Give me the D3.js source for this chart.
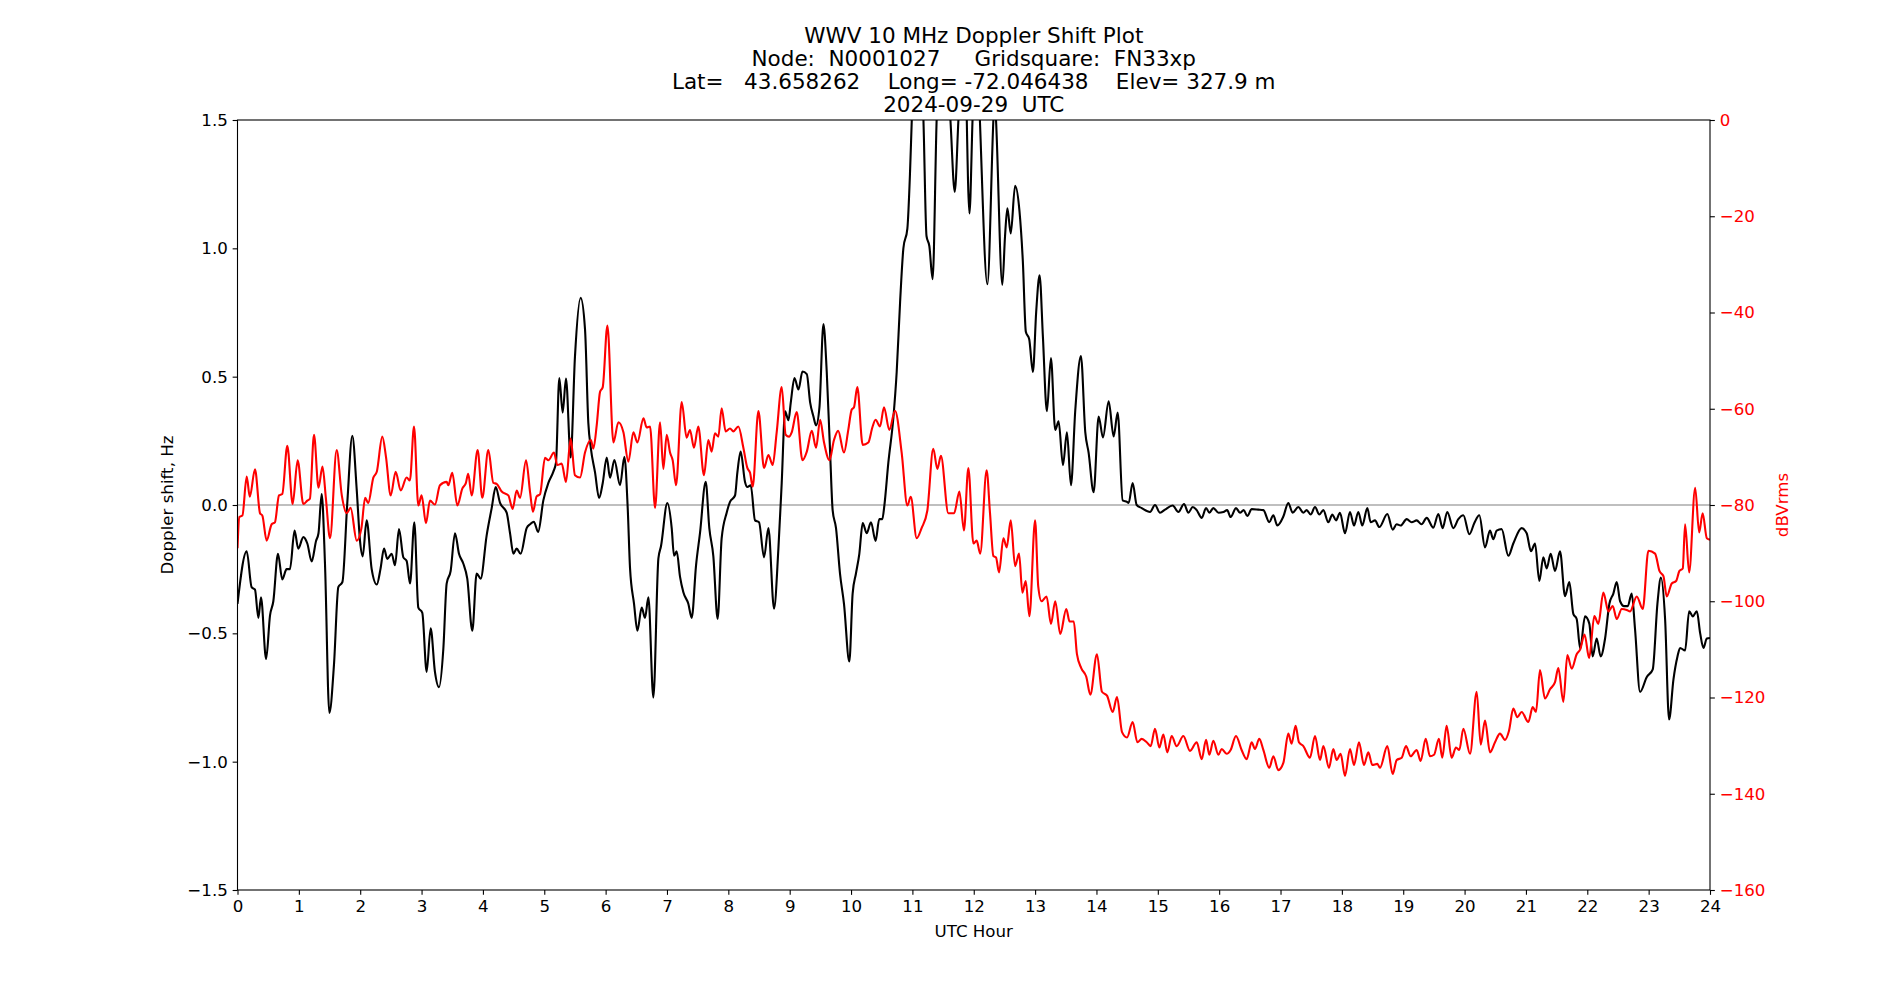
<!DOCTYPE html>
<html>
<head>
<meta charset="utf-8">
<script src="https://cdn.jsdelivr.net/npm/d3@7"></script>
<style>
  body { margin: 0; background: #fff; }
  svg text { font-family: "DejaVu Sans", sans-serif; }
</style>
</head>
<body>
<svg id="chart" width="1900" height="1000"></svg>
<script>
// title and tick labels
const titleLines = [
    "WWV 10 MHz Doppler Shift Plot",
    "Node:  N0001027     Gridsquare:  FN33xp",
    "Lat=   43.658262    Long= -72.046438    Elev= 327.9 m",
    "2024-09-29  UTC"
];
const hourTicks = d3.range(0, 25);
const dopplerTicks = [-1.5, -1.0, -0.5, 0.0, 0.5, 1.0, 1.5];
const dbTicks = [0, -20, -40, -60, -80, -100, -120, -140, -160];

// Doppler shift (Hz): [UTC hour, Hz]
const dopplerPts = [
    [0.0,-0.385],[0.15,-0.18],[0.23,-0.32],[0.285,-0.33],[0.34,-0.44],[0.383,-0.36],[0.466,-0.60],[0.53,-0.43],
    [0.584,-0.375],[0.66,-0.19],[0.73,-0.29],[0.80,-0.25],[0.855,-0.25],[0.93,-0.10],[0.99,-0.17],[1.073,-0.125],
    [1.138,-0.15],[1.209,-0.22],[1.28,-0.14],[1.32,-0.11],[1.372,0.043],[1.426,-0.23],[1.497,-0.81],[1.573,-0.62],
    [1.643,-0.32],[1.71,-0.30],[1.79,0.01],[1.871,0.27],[1.943,0.06],[1.997,-0.14],[2.04,-0.20],[2.105,-0.06],
    [2.187,-0.25],[2.27,-0.31],[2.33,-0.25],[2.388,-0.17],[2.442,-0.21],[2.513,-0.19],[2.567,-0.235],[2.632,-0.094],
    [2.703,-0.204],[2.757,-0.218],[2.812,-0.306],[2.882,-0.067],[2.947,-0.40],[3.012,-0.42],[3.083,-0.65],[3.148,-0.48],
    [3.218,-0.65],[3.284,-0.71],[3.355,-0.56],[3.409,-0.306],[3.474,-0.257],[3.545,-0.11],[3.61,-0.19],[3.68,-0.228],
    [3.745,-0.287],[3.827,-0.49],[3.898,-0.267],[3.963,-0.287],[4.06,-0.12],[4.143,-0.012],[4.208,0.07],[4.279,0.008],
    [4.387,-0.03],[4.442,-0.11],[4.497,-0.19],[4.55,-0.17],[4.615,-0.19],[4.713,-0.09],[4.77,-0.075],[4.83,-0.065],
    [4.90,-0.105],[4.985,0.018],[5.067,0.086],[5.148,0.13],[5.191,0.165],[5.245,0.495],[5.3,0.36],[5.354,0.493],
    [5.43,0.185],[5.5,0.577],[5.593,0.807],[5.664,0.685],[5.718,0.32],[5.76,0.22],[5.828,0.126],[5.893,0.027],
    [5.953,0.086],[6.018,0.185],[6.072,0.106],[6.143,0.175],[6.235,0.077],[6.306,0.188],[6.36,-0.012],[6.398,-0.247],
    [6.463,-0.385],[6.518,-0.49],[6.588,-0.40],[6.642,-0.44],[6.697,-0.36],[6.778,-0.75],[6.86,-0.208],[6.903,-0.16],
    [7.006,0.008],[7.077,-0.09],[7.115,-0.198],[7.158,-0.18],[7.213,-0.28],[7.267,-0.34],[7.348,-0.385],[7.403,-0.44],
    [7.473,-0.237],[7.538,-0.11],[7.631,0.09],[7.69,-0.09],[7.755,-0.198],[7.826,-0.444],[7.891,-0.13],[7.973,-0.03],
    [8.027,0.012],[8.109,0.037],[8.147,0.126],[8.201,0.208],[8.272,0.09],[8.31,0.07],[8.365,0.077],[8.435,-0.06],
    [8.5,-0.067],[8.582,-0.204],[8.653,-0.09],[8.745,-0.404],[8.816,-0.17],[8.87,0.086],[8.925,0.365],[8.98,0.33],
    [9.018,0.40],[9.078,0.495],[9.143,0.45],[9.208,0.52],[9.279,0.51],[9.333,0.40],[9.387,0.345],[9.43,0.31],
    [9.485,0.38],[9.55,0.705],[9.604,0.518],[9.659,0.204],[9.70,-0.02],[9.755,-0.09],[9.82,-0.267],[9.885,-0.385],
    [9.972,-0.61],[10.026,-0.345],[10.08,-0.267],[10.135,-0.19],[10.19,-0.07],[10.255,-0.11],[10.325,-0.067],[10.4,-0.14],
    [10.46,-0.055],[10.51,-0.055],[10.543,-0.002],[10.608,0.165],[10.69,0.34],[10.744,0.518],[10.8,0.793],[10.853,1.0],
    [10.918,1.077],[10.962,1.30],[10.99,1.50],[11.08,1.95],[11.18,1.5],[11.23,1.048],[11.276,1.009],[11.33,0.88],
    [11.395,1.5],[11.5,1.95],[11.62,1.5],[11.69,1.22],[11.75,1.5],[11.84,1.9],[11.93,1.136],[11.98,1.5],
    [12.04,1.9],[12.10,1.5],[12.222,0.86],[12.32,1.5],[12.34,1.6],[12.363,1.5],[12.466,0.858],[12.51,1.048],
    [12.548,1.156],[12.603,1.058],[12.674,1.244],[12.745,1.146],[12.8,0.95],[12.849,0.675],[12.904,0.646],[12.964,0.518],
    [13.018,0.754],[13.073,0.895],[13.127,0.656],[13.192,0.365],[13.258,0.573],[13.328,0.292],[13.383,0.326],[13.454,0.155],
    [13.519,0.283],[13.584,0.077],[13.655,0.37],[13.747,0.58],[13.818,0.283],[13.872,0.204],[13.954,0.05],[14.036,0.345],
    [14.106,0.263],[14.199,0.404],[14.28,0.267],[14.346,0.36],[14.427,0.018],[14.498,0.012],[14.525,0.008],[14.59,0.086],
    [14.656,0.0],[14.738,-0.012],[14.873,-0.027],[14.954,0.0],[15.036,-0.03],[15.117,-0.018],[15.242,-0.002],[15.335,-0.027],
    [15.427,0.004],[15.498,-0.03],[15.569,-0.008],[15.634,-0.02],[15.716,-0.05],[15.786,-0.012],[15.84,-0.03],[15.905,-0.012],
    [15.99,-0.03],[16.07,-0.027],[16.13,-0.02],[16.187,-0.047],[16.274,-0.012],[16.339,-0.03],[16.40,-0.02],[16.459,-0.043],
    [16.53,-0.016],[16.638,-0.018],[16.72,-0.02],[16.817,-0.067],[16.883,-0.04],[16.948,-0.08],[17.046,-0.045],[17.127,0.008],
    [17.197,-0.03],[17.29,-0.008],[17.372,-0.03],[17.426,-0.02],[17.491,-0.037],[17.562,-0.008],[17.633,-0.037],[17.698,-0.02],
    [17.779,-0.067],[17.845,-0.037],[17.904,-0.06],[17.969,-0.03],[18.051,-0.11],[18.132,-0.027],[18.198,-0.08],[18.268,-0.027],
    [18.333,-0.08],[18.415,-0.012],[18.469,-0.067],[18.54,-0.06],[18.61,-0.086],[18.741,-0.035],[18.828,-0.096],[18.893,-0.075],
    [18.958,-0.08],[19.056,-0.055],[19.138,-0.067],[19.219,-0.06],[19.3,-0.075],[19.382,-0.05],[19.49,-0.088],[19.572,-0.035],
    [19.642,-0.09],[19.718,-0.027],[19.816,-0.09],[19.898,-0.055],[19.98,-0.04],[20.078,-0.114],[20.159,-0.07],[20.24,-0.04],
    [20.333,-0.165],[20.414,-0.10],[20.468,-0.133],[20.523,-0.10],[20.604,-0.094],[20.713,-0.198],[20.794,-0.15],[20.93,-0.09],
    [21.012,-0.11],[21.082,-0.18],[21.148,-0.15],[21.218,-0.296],[21.283,-0.204],[21.338,-0.247],[21.403,-0.19],[21.474,-0.257],
    [21.555,-0.18],[21.637,-0.355],[21.707,-0.30],[21.772,-0.424],[21.827,-0.444],[21.885,-0.56],[21.963,-0.434],[22.033,-0.462],
    [22.088,-0.59],[22.153,-0.52],[22.218,-0.59],[22.29,-0.52],[22.36,-0.385],[22.425,-0.345],[22.48,-0.30],[22.535,-0.375],
    [22.6,-0.394],[22.66,-0.394],[22.724,-0.345],[22.778,-0.483],[22.86,-0.728],[22.97,-0.67],[23.067,-0.64],[23.143,-0.385],
    [23.2,-0.283],[23.268,-0.444],[23.333,-0.836],[23.404,-0.68],[23.47,-0.59],[23.513,-0.557],[23.594,-0.567],[23.66,-0.414],
    [23.72,-0.434],[23.785,-0.414],[23.84,-0.50],[23.893,-0.557],[23.948,-0.52],[24.0,-0.518]
];

// signal level (dBVrms): [UTC hour, dB]
const levelPts = [
    [0.0,-89],[0.03,-82.5],[0.08,-82.2],[0.15,-74.1],[0.2,-78.3],[0.285,-72.6],[0.367,-81.7],[0.405,-82.2],
    [0.475,-87.4],[0.557,-84.0],[0.61,-83.6],[0.676,-78.0],[0.73,-77.7],[0.812,-67.7],[0.899,-79.8],[0.98,-70.7],
    [1.073,-79.8],[1.138,-79.1],[1.18,-78.7],[1.247,-65.4],[1.32,-76.4],[1.385,-72.0],[1.44,-78.5],[1.508,-86.9],
    [1.616,-68.6],[1.70,-78.0],[1.78,-81.7],[1.844,-80.6],[1.943,-87.4],[2.02,-84.8],[2.08,-78.5],[2.13,-79.6],
    [2.214,-74.3],[2.27,-73.1],[2.36,-65.8],[2.42,-70.0],[2.497,-78.0],[2.578,-73.1],[2.66,-77.0],[2.757,-74.3],
    [2.81,-74.9],[2.877,-63.7],[2.947,-80.1],[3.001,-78.0],[3.072,-83.8],[3.137,-79.1],[3.218,-79.9],[3.3,-75.9],
    [3.409,-75.2],[3.436,-75.9],[3.5,-73.3],[3.583,-80.1],[3.664,-76.6],[3.723,-75.4],[3.76,-73.5],[3.817,-78.0],
    [3.914,-68.6],[3.99,-78.5],[4.088,-68.6],[4.17,-75.4],[4.224,-75.6],[4.306,-77.2],[4.414,-78.0],[4.485,-80.8],
    [4.55,-77.0],[4.605,-78.5],[4.703,-70.7],[4.77,-77.5],[4.815,-81.4],[4.876,-78.2],[4.93,-77.8],[5.012,-70.2],
    [5.067,-70.7],[5.159,-69.1],[5.213,-71.7],[5.284,-71.4],[5.354,-75.2],[5.43,-66.2],[5.5,-73.8],[5.583,-74.3],
    [5.664,-69.1],[5.76,-66.5],[5.8,-68.3],[5.855,-63.4],[5.909,-56.5],[5.953,-55.5],[6.029,-42.7],[6.127,-67.0],
    [6.208,-62.8],[6.29,-64.9],[6.371,-71.0],[6.452,-64.9],[6.518,-67.0],[6.616,-62.0],[6.67,-63.9],[6.724,-63.7],
    [6.806,-80.6],[6.887,-62.8],[6.94,-72.5],[6.996,-65.4],[7.05,-69.1],[7.093,-70.7],[7.148,-75.9],[7.24,-58.6],
    [7.32,-66.0],[7.375,-64.4],[7.44,-68.1],[7.51,-63.7],[7.603,-73.8],[7.674,-66.5],[7.728,-68.9],[7.782,-65.1],
    [7.837,-65.8],[7.891,-59.9],[7.956,-64.7],[8.027,-64.1],[8.082,-64.7],[8.163,-63.7],[8.245,-68.1],[8.31,-72.3],
    [8.354,-73.3],[8.397,-76.2],[8.49,-60.5],[8.582,-72.3],[8.653,-69.6],[8.723,-71.7],[8.788,-64.9],[8.87,-55.5],
    [8.935,-65.4],[8.989,-65.8],[9.033,-64.9],[9.114,-60.7],[9.208,-70.7],[9.279,-68.9],[9.36,-64.6],[9.43,-68.1],
    [9.496,-62.3],[9.56,-67.0],[9.648,-70.7],[9.722,-66.5],[9.79,-64.6],[9.885,-69.1],[9.955,-64.4],[10.01,-60.2],
    [10.048,-59.7],[10.102,-55.5],[10.19,-67.5],[10.282,-67.0],[10.347,-63.9],[10.4,-62.3],[10.472,-63.7],[10.537,-59.7],
    [10.624,-64.4],[10.717,-60.4],[10.825,-69.1],[10.918,-80.1],[10.973,-78.3],[11.07,-86.9],[11.15,-84.8],[11.243,-81.2],
    [11.34,-68.3],[11.407,-72.5],[11.465,-69.8],[11.586,-81.7],[11.68,-81.7],[11.766,-77.2],[11.84,-85.3],[11.912,-72.3],
    [11.994,-88.0],[12.048,-87.4],[12.105,-90.1],[12.21,-72.8],[12.265,-81.7],[12.32,-90.6],[12.363,-90.9],[12.412,-94.0],
    [12.483,-86.9],[12.537,-88.8],[12.603,-83.2],[12.674,-92.7],[12.738,-90.1],[12.793,-98.2],[12.847,-95.8],[12.907,-103.1],
    [13.0,-83.2],[13.051,-96.9],[13.105,-100.0],[13.187,-99.0],[13.258,-104.7],[13.328,-100.0],[13.41,-106.8],[13.508,-101.6],
    [13.562,-104.2],[13.63,-104.2],[13.682,-111.0],[13.752,-113.9],[13.834,-115.7],[13.9,-119.4],[14.008,-111.0],[14.09,-118.8],
    [14.172,-119.6],[14.265,-123.0],[14.335,-119.9],[14.417,-127.2],[14.498,-128.3],[14.59,-125.1],[14.667,-129.3],[14.738,-128.6],
    [14.819,-129.3],[14.884,-130.1],[14.954,-126.5],[15.025,-130.4],[15.09,-127.7],[15.155,-131.4],[15.226,-128.0],[15.307,-130.1],
    [15.416,-128.0],[15.525,-131.1],[15.634,-129.3],[15.716,-132.8],[15.786,-128.8],[15.84,-131.9],[15.905,-129.0],[15.987,-131.9],
    [16.041,-130.7],[16.122,-131.7],[16.187,-130.9],[16.274,-128.0],[16.366,-130.9],[16.448,-132.8],[16.53,-129.3],[16.583,-130.7],
    [16.654,-128.6],[16.72,-130.9],[16.817,-134.6],[16.883,-132.2],[16.964,-135.1],[17.046,-133.6],[17.127,-127.5],[17.18,-129.6],
    [17.246,-125.9],[17.3,-129.3],[17.372,-130.1],[17.48,-132.5],[17.562,-128.0],[17.644,-133.0],[17.698,-130.1],[17.79,-134.6],
    [17.86,-130.7],[17.915,-133.0],[17.98,-131.7],[18.051,-136.3],[18.132,-130.7],[18.198,-134.0],[18.279,-129.3],[18.36,-134.0],
    [18.431,-131.4],[18.496,-134.0],[18.578,-133.8],[18.621,-134.6],[18.741,-130.1],[18.828,-135.9],[18.893,-133.0],[18.975,-132.5],
    [19.045,-130.1],[19.121,-132.2],[19.219,-130.9],[19.284,-133.2],[19.366,-128.6],[19.436,-132.2],[19.502,-131.9],[19.582,-128.6],
    [19.637,-132.5],[19.707,-125.9],[19.789,-132.5],[19.86,-130.4],[19.914,-130.9],[19.98,-126.5],[20.089,-131.7],[20.197,-118.8],
    [20.263,-129.8],[20.333,-124.8],[20.414,-131.4],[20.496,-129.3],[20.577,-127.5],[20.659,-128.8],[20.724,-126.9],[20.794,-122.3],
    [20.86,-124.1],[20.93,-123.0],[21.039,-125.1],[21.11,-122.0],[21.164,-123.0],[21.229,-114.3],[21.31,-120.2],[21.392,-118.3],
    [21.474,-116.8],[21.528,-113.9],[21.61,-120.9],[21.675,-111.2],[21.746,-114.0],[21.827,-111.0],[21.885,-110.0],[21.955,-106.9],
    [22.03,-111.8],[22.115,-103.1],[22.18,-104.7],[22.262,-98.2],[22.344,-102.1],[22.414,-101.0],[22.48,-103.7],[22.562,-101.6],
    [22.643,-101.8],[22.698,-102.1],[22.806,-99.0],[22.904,-101.6],[22.996,-89.5],[23.105,-90.1],[23.176,-93.7],[23.241,-94.8],
    [23.295,-99.0],[23.377,-96.3],[23.447,-95.8],[23.502,-93.7],[23.556,-93.2],[23.594,-84.0],[23.66,-94.0],[23.758,-76.4],
    [23.823,-85.7],[23.88,-81.7],[23.948,-86.9],[24.0,-87.2]
];

const width = 1900, height = 1000;
const margin = { top: 120, right: 190, bottom: 110, left: 237.5 };
const fontTick = 16.67;

const svg = d3.select("#chart");

const x = d3.scaleLinear().domain([0, 24]).range([margin.left, width - margin.right]);
const y = d3.scaleLinear().domain([-1.5, 1.5]).range([height - margin.bottom, margin.top]);
const yDb = d3.scaleLinear().domain([-160, 0]).range([height - margin.bottom, margin.top]);

svg.append("defs").append("clipPath").attr("id", "plot-clip")
    .append("rect")
    .attr("x", margin.left).attr("y", margin.top)
    .attr("width", width - margin.left - margin.right)
    .attr("height", height - margin.top - margin.bottom);

const plot = svg.append("g").attr("clip-path", "url(#plot-clip)");

// zero reference line
plot.append("line")
    .attr("x1", x(0)).attr("x2", x(24))
    .attr("y1", y(0)).attr("y2", y(0))
    .attr("stroke", "#808080").attr("stroke-width", 1.1);

const dopplerLine = d3.line().x(d => x(d[0])).y(d => y(d[1])).curve(d3.curveMonotoneX);
const levelLine = d3.line().x(d => x(d[0])).y(d => yDb(d[1])).curve(d3.curveMonotoneX);

plot.append("path").datum(dopplerPts)
    .attr("fill", "none").attr("stroke", "black").attr("stroke-width", 2.1)
    .attr("stroke-linejoin", "round")
    .attr("d", dopplerLine);

plot.append("path").datum(levelPts)
    .attr("fill", "none").attr("stroke", "red").attr("stroke-width", 2.1)
    .attr("stroke-linejoin", "round")
    .attr("d", levelLine);

// axes
function styleAxis(g, color) {
    g.select(".domain").remove();
    g.attr("font-family", "DejaVu Sans").attr("font-size", fontTick);
    g.selectAll(".tick line").attr("stroke", "black").attr("stroke-width", 1.1);
    g.selectAll(".tick text").attr("fill", color);
}

svg.append("g")
    .attr("transform", `translate(0,${height - margin.bottom})`)
    .call(d3.axisBottom(x).tickValues(hourTicks).tickFormat(d3.format("d"))
        .tickSize(4.86).tickPadding(4.86).tickSizeOuter(0))
    .call(g => styleAxis(g, "black"));

svg.append("g")
    .attr("transform", `translate(${margin.left},0)`)
    .call(d3.axisLeft(y).tickValues(dopplerTicks).tickFormat(d3.format(".1f"))
        .tickSize(4.86).tickPadding(4.86).tickSizeOuter(0))
    .call(g => styleAxis(g, "black"));

svg.append("g")
    .attr("transform", `translate(${width - margin.right},0)`)
    .call(d3.axisRight(yDb).tickValues(dbTicks).tickFormat(d3.format("d"))
        .tickSize(4.86).tickPadding(4.86).tickSizeOuter(0))
    .call(g => styleAxis(g, "red"));

// frame
svg.append("rect")
    .attr("x", margin.left).attr("y", margin.top)
    .attr("width", width - margin.left - margin.right)
    .attr("height", height - margin.top - margin.bottom)
    .attr("fill", "none").attr("stroke", "black").attr("stroke-width", 1.1);

// axis labels
svg.append("text")
    .attr("x", (margin.left + width - margin.right) / 2).attr("y", 937)
    .attr("text-anchor", "middle").attr("font-size", fontTick)
    .text("UTC Hour");

svg.append("text")
    .attr("transform", `translate(173,${(margin.top + height - margin.bottom) / 2}) rotate(-90)`)
    .attr("text-anchor", "middle").attr("font-size", fontTick)
    .text("Doppler shift, Hz");

svg.append("text")
    .attr("transform", `translate(1788,${(margin.top + height - margin.bottom) / 2}) rotate(-90)`)
    .attr("text-anchor", "middle").attr("font-size", fontTick).attr("fill", "red")
    .text("dBVrms");

// title
svg.append("g").selectAll("text")
    .data(titleLines)
    .join("text")
    .attr("x", (margin.left + width - margin.right) / 2)
    .attr("y", (d, i) => 112 - (titleLines.length - 1 - i) * 23)
    .attr("text-anchor", "middle")
    .attr("font-size", 21.5)
    .attr("xml:space", "preserve")
    .style("white-space", "pre")
    .text(d => d);
</script>
</body>
</html>
